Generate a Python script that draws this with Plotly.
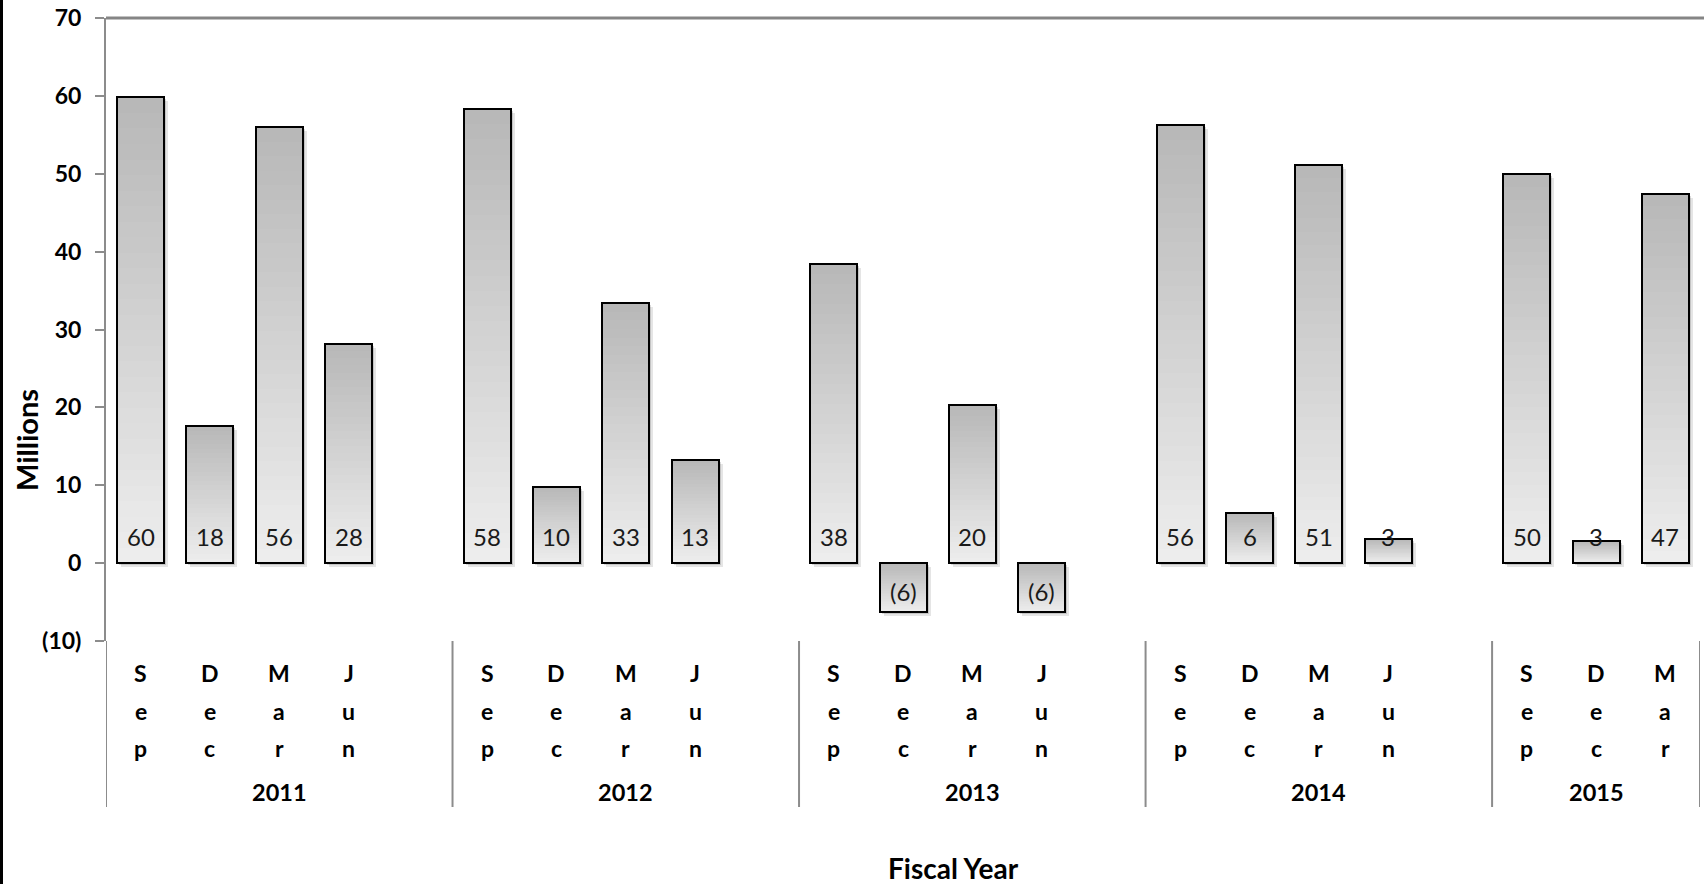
import plotly.graph_objects as go

# Quarterly figures (millions) by fiscal year
years = ["2011", "2012", "2013", "2014", "2015"]
months = ["Sep", "Dec", "Mar", "Jun"]
fy2011 = [59.8, 17.6, 56.0, 28.2]
fy2012 = [58.3, 9.8, 33.4, 13.3]
fy2013 = [38.4, -6.3, 20.3, -6.3]
fy2014 = [56.2, 6.4, 51.1, 3.1]
fy2015 = [50.0, 2.8, 47.4]
year_values = [fy2011, fy2012, fy2013, fy2014, fy2015]

y_tick_vals = [-10, 0, 10, 20, 30, 40, 50, 60, 70]
y_tick_text = ["(10)", "0", "10", "20", "30", "40", "50", "60", "70"]

FONT = "Lato"
W, H = 1704, 884
ML, MR, MT, MB = 106, 4, 18, 243
PW, PH = W - ML - MR, H - MT - MB

# lay quarters out on slots, one empty slot between fiscal years
xs, vals, labels, groups = [], [], [], []
cursor = 0
for i, (yr, vv) in enumerate(zip(years, year_values)):
    n = len(vv)
    last = i == len(years) - 1
    start = cursor - 0.5
    end = cursor + n - 0.5 + (0 if last else 1)
    groups.append((yr, start, end))
    for j, v in enumerate(vv):
        xs.append(cursor + j)
        vals.append(v)
        labels.append(months[j])
    cursor += n + 1

x_lo, x_hi = groups[0][1], groups[-1][2]
slot_px = PW / (x_hi - x_lo)
unit_px = PH / (y_tick_vals[-1] - y_tick_vals[0])
bar_w = 47 / slot_px

fig = go.Figure()

# soft drop shadow
for dpx, alpha in [(4, 0.10), (2, 0.14)]:
    dx = dpx / slot_px
    dy = dpx / unit_px
    fig.add_trace(go.Bar(
        x=xs, y=[abs(v) for v in vals],
        base=[min(0, v) - dy for v in vals],
        width=bar_w, offset=-bar_w / 2 + dx,
        marker=dict(color=f"rgba(0,0,0,{alpha})", line=dict(width=0)),
        hoverinfo="skip", showlegend=False,
    ))

# vertical gradient fill: darker at top, lighter at bottom of each bar
N = 30
dark = (184, 184, 184)
light = (237, 237, 237)
for k in range(N):
    t = k / (N - 1)
    c = tuple(round(dark[m] + (light[m] - dark[m]) * t) for m in range(3))
    fig.add_trace(go.Bar(
        x=xs, y=[abs(v) * (N - k) / N for v in vals],
        base=[min(0, v) for v in vals],
        width=bar_w,
        marker=dict(color=f"rgb{c}", line=dict(width=0)),
        hoverinfo="skip", showlegend=False,
    ))

# outline
fig.add_trace(go.Bar(
    x=xs, y=vals, width=bar_w,
    marker=dict(color="rgba(0,0,0,0)", line=dict(color="black", width=2)),
    showlegend=False,
))

annotations = []
# value labels near the zero line
for x, v in zip(xs, vals):
    r = round(abs(v))
    txt = f"({r})" if v < 0 else f"{r}"
    annotations.append(dict(
        x=x, y=0, xref="x", yref="y", text=txt, showarrow=False,
        yshift=27 if v >= 0 else -28,
        font=dict(family=FONT, size=24, color="#1a1a1a"),
    ))

# month names stacked letter by letter
for x, lab in zip(xs, labels):
    for ci, ch in enumerate(lab):
        annotations.append(dict(
            x=x, y=0, xref="x", yref="paper", text=f"<b>{ch}</b>",
            showarrow=False, yanchor="middle", yshift=-32 - 37.5 * ci,
            font=dict(family=FONT, size=23, color="black"),
        ))

shapes = []
for yr, s, e in groups:
    annotations.append(dict(
        x=(s + e) / 2, y=0, xref="x", yref="paper", text=f"<b>{yr}</b>",
        showarrow=False, yanchor="middle", yshift=-151,
        font=dict(family=FONT, size=23.5, color="black"),
    ))
# group dividers below the plot
div_bottom = -(807 - (MT + PH)) / PH
for b in sorted({g[1] for g in groups} | {g[2] for g in groups}):
    shapes.append(dict(type="line", xref="x", yref="paper", x0=b, x1=b,
                       y0=0, y1=div_bottom, line=dict(color="#8c8c8c", width=2)))

# top border line at the upper end of the value axis
shapes.append(dict(type="line", xref="paper", yref="paper", x0=0, x1=1.01,
                   y0=1, y1=1, line=dict(color="#858585", width=3)))
# dark frame edge on the left
shapes.append(dict(type="line", xref="paper", yref="paper",
                   x0=(1.5 - ML) / PW, x1=(1.5 - ML) / PW,
                   y0=(MT + PH) / PH + 0.05, y1=-(MB + 10) / PH,
                   line=dict(color="black", width=3)))

annotations.append(dict(
    x=(954 - ML) / PW, y=0, xref="paper", yref="paper", text="<b>Fiscal Year</b>",
    showarrow=False, yanchor="middle", yshift=-227,
    font=dict(family=FONT, size=28, color="black"),
))
annotations.append(dict(
    x=(26 - ML) / PW, y=(MT + PH - 440) / PH, xref="paper", yref="paper",
    text="<b>Millions</b>", textangle=-90, showarrow=False,
    xanchor="center", yanchor="middle",
    font=dict(family=FONT, size=29, color="black"),
))

fig.update_layout(
    width=W, height=H,
    margin=dict(l=ML, r=MR, t=MT, b=MB, pad=0),
    paper_bgcolor="white", plot_bgcolor="white",
    barmode="overlay", bargap=0,
    showlegend=False,
    xaxis=dict(range=[x_lo, x_hi], showticklabels=False, showgrid=False,
               zeroline=False, showline=False, fixedrange=True),
    yaxis=dict(range=[y_tick_vals[0], y_tick_vals[-1]], tickvals=y_tick_vals,
               ticktext=[f"<b>{t}</b>" for t in y_tick_text],
               ticks="outside", ticklen=9, tickwidth=2, tickcolor="#8c8c8c",
               ticklabelstandoff=9,
               showline=True, linecolor="#8c8c8c", linewidth=2,
               showgrid=False, zeroline=False,
               tickfont=dict(family=FONT, size=23, color="black")),
    annotations=annotations,
    shapes=shapes,
)

fig.write_html("out.html")
